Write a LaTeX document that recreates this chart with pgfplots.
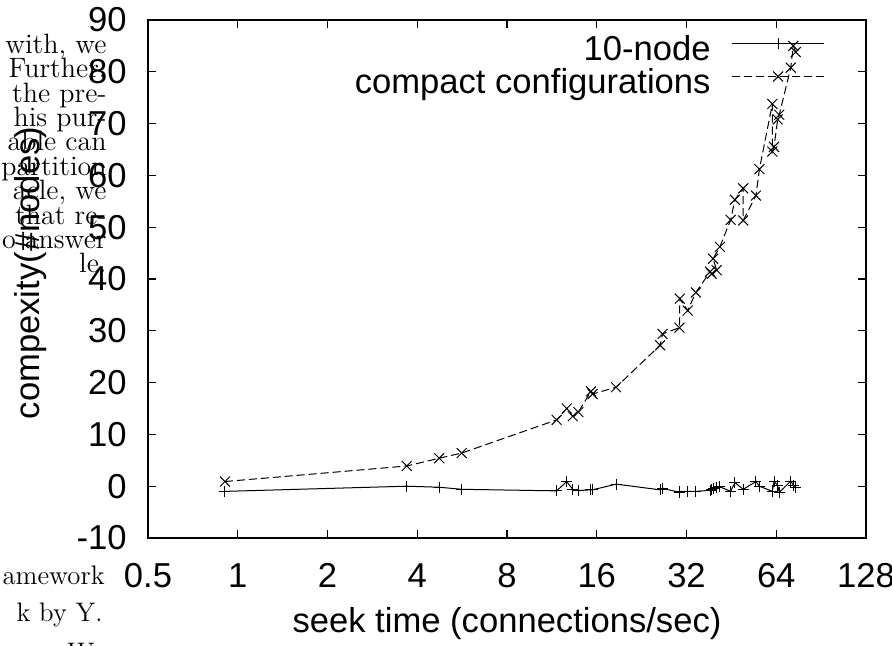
\documentclass[border=0pt]{standalone}
\usepackage{fontspec}
\usepackage{pgfplots}
\usepackage{pgfplotstable}
\pgfplotsset{compat=1.18}
\newfontfamily\chartfont{Liberation Sans}
\newcommand\chartsize{\fontsize{17.3}{20}\selectfont}
\newcommand\bodytext{\fontsize{14}{15}\selectfont}
\newcommand\bodytextb{\fontsize{13.4}{15}\selectfont}

% seek time vs. complexity, one row per run
\pgfplotstableread{
x      compact  tennode
0.906   0.9   -1.0
3.69    3.9    0.0
4.74    5.4   -0.2
5.64    6.4   -0.6
11.74  12.8   -0.9
12.69  15.0    0.9
13.29  13.5   -0.6
13.88  14.3   -0.85
15.30  18.3   -0.7
15.50  17.8   -0.7
18.57  19.1    0.4
26.1   27.2   -0.7
26.6   29.4   -0.4
30.3   30.6   -1.2
30.4   36.2   -1.0
32.3   33.9   -1.0
34.4   37.4   -1.0
38.4   41.4   -0.8
38.9   41.0   -0.6
40.4   41.7   -0.2
39.3   43.9   -0.4
41.4   46.2   -0.1
45.0   51.4   -1.0
46.5   55.3    0.7
49.6   57.5   -0.6
49.6   51.3   -0.6
54.7   56.1    0.9
56.2   61.2    0.0
62.1   73.8   -1.0
62.1   64.6   -1.0
62.9   65.5    0.9
64.7   70.8    0.2
65.5   71.7   -1.2
71.6   80.8    1.0
73.0   85.0    0.2
74.4   83.8   -0.3
}\seektable

\begin{document}
\begin{tikzpicture}
\useasboundingbox (0,0) rectangle (446pt,323pt);

% surrounding body text of the page
\begin{scope}[every node/.style={anchor=base east, inner sep=0pt}]
\node at (53.5pt,296.35pt) {\bodytext with, we};
\node at (53.5pt,284.15pt) {\bodytext Further,};
\node at (53.5pt,271.95pt) {\bodytext the pre-};
\node at (53.5pt,259.75pt) {\bodytext his pur-};
\node at (53.5pt,247.55pt) {\bodytext able can};
\node at (53.5pt,235.35pt) {\bodytext partition};
\node at (53.5pt,223.15pt) {\bodytext acle, we};
\node at (53.5pt,210.95pt) {\bodytext that re-};
\node at (53.5pt,198.75pt) {\bodytext o answer};
\node at (53.5pt,186.55pt) {\bodytext le.};
\node at (52.5pt,30.5pt) {\bodytextb amework};
\node at (51.5pt,12pt) {\bodytextb k by Y.};
\node[anchor=base west] at (33.5pt,-8pt) {\bodytextb W};
\end{scope}

\begin{axis}[
  at={(74pt,54pt)}, anchor=south west,
  scale only axis, width=359pt, height=259pt,
  xmode=log, log basis x=2,
  xmin=0.5, xmax=128, ymin=-10, ymax=90,
  xtick={0.5,1,2,4,8,16,32,64,128},
  xticklabels={0.5,1,2,4,8,16,32,64,128},
  ytick={-10,0,10,20,30,40,50,60,70,80,90},
  xminorticks=false, yminorticks=false,
  tick align=inside,
  major tick length=4pt,
  every tick/.style={black, line width=0.6pt},
  axis line style={line width=1pt},
  font=\chartfont\chartsize,
  ticklabel style={font=\chartfont\chartsize, inner sep=0pt},
  /pgf/number format/assume math mode=true,
  yticklabel style={anchor=east, xshift=-10.5pt},
  xticklabel style={anchor=north, yshift=-12.5pt},
  xlabel={seek time (connections/sec)},
  ylabel={compexity(\#nodes)},
  xlabel style={at={(axis description cs:0.5,-0.1815)}, anchor=base},
  ylabel style={at={(axis description cs:-0.1518,0.5116)}, anchor=base},
  legend style={at={(axis description cs:1,1)}, anchor=north east,
    xshift=-20.5pt, yshift=-7.5pt, draw=none, fill=none,
    inner sep=0pt, row sep=0pt, column sep=10.5pt,
    font=\chartfont\chartsize,
    nodes={inner sep=0pt, text height=12.4pt, text depth=4.1pt}},
  legend cell align=right,
  legend plot pos=right,
  legend image code/.code={
    \draw[mark repeat=2, mark phase=2, #1]
      plot coordinates {(0pt,4.2pt) (23pt,4.2pt) (46pt,4.2pt)};},
]
\addplot[black, line width=0.5pt, mark=+, mark size=2.75pt,
  mark options={solid}]
  table[x=x, y=tennode] {\seektable};
\addlegendentry{10-node}
\addplot[black, line width=0.5pt, dash pattern=on 4pt off 2pt,
  mark=x, mark size=3.5pt, mark options={solid}]
  table[x=x, y=compact] {\seektable};
\addlegendentry{compact configurations}
\end{axis}
\end{tikzpicture}
\end{document}
